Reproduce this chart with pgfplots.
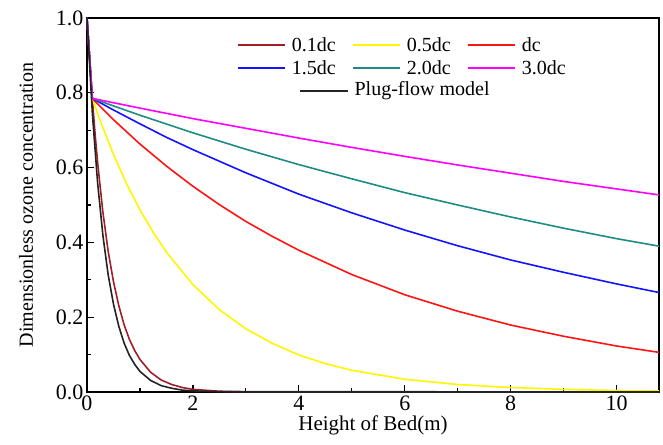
\documentclass[border=0pt]{standalone}
\usepackage{fontspec}
\setmainfont{Liberation Serif}
\usepackage{pgfplots}
\pgfplotsset{compat=1.18}
\definecolor{cdark}{RGB}{160,30,40}
\definecolor{cyel}{RGB}{255,245,0}
\definecolor{cred}{RGB}{255,20,20}
\definecolor{cblue}{RGB}{20,20,255}
\definecolor{cteal}{RGB}{30,140,130}
\definecolor{cmag}{RGB}{255,0,255}
\definecolor{cblk}{RGB}{35,35,35}
\tikzset{
  key/.style={line width=1.6pt},
  keytext/.style={right, inner xsep=6pt, text=black, font=\fontsize{20}{22}\selectfont},
}
\begin{document}
\begin{tikzpicture}
  \begin{axis}[
    scale only axis,
    width=572pt, height=374pt,
    xmin=0, xmax=10.8, ymin=0, ymax=1,
    xtick={0,2,...,10}, ytick={0,0.2,...,1.0},
    minor x tick num=1, minor y tick num=1,
    tick align=inside, tick pos=left,
    major tick length=7pt, minor tick length=4pt,
    every tick/.style={black, line width=1.2pt},
    axis line style={line width=1.5pt},
    /pgf/number format/assume math mode=true,
    yticklabel style={/pgf/number format/.cd, fixed, fixed zerofill, precision=1},
    tick label style={font=\fontsize{22}{24}\selectfont},
    xlabel={Height of Bed(m)},
    ylabel={Dimensionless ozone concentration},
    xlabel style={font=\fontsize{21}{23}\selectfont, yshift=2pt},
    ylabel style={font=\fontsize{20}{22}\selectfont, yshift=16pt},
    every axis plot/.append style={line width=1.6pt},
  ]
    \addplot[cdark] coordinates {
      (0,1) (0.1,0.785) (0.15,0.695) (0.2,0.614) (0.3,0.481) (0.4,0.376) (0.5,0.295)
      (0.6,0.231) (0.7,0.180) (0.8,0.141) (0.9,0.111) (1.0,0.087) (1.2,0.053)
      (1.4,0.032) (1.6,0.020) (1.8,0.012) (2.0,0.007) (2.5,0.002) (3.0,0.001) (10.8,0.0)
    };
    \addplot[cyel] coordinates {
      (0,1) (0.1,0.785) (0.25,0.725) (0.5,0.635) (0.75,0.556) (1,0.487) (1.25,0.427)
      (1.5,0.374) (2,0.287) (2.5,0.220) (3,0.169) (3.5,0.130) (4,0.099) (4.5,0.076)
      (5,0.058) (6,0.034) (7,0.020) (8,0.012) (9,0.007) (10,0.004) (10.8,0.003)
    };
    \addplot[cred] coordinates {
      (0,1) (0.1,0.785) (0.5,0.728) (1,0.663) (1.5,0.604) (2,0.550) (2.5,0.501)
      (3,0.456) (3.5,0.416) (4,0.379) (5,0.314) (6,0.260) (7,0.216) (8,0.179)
      (9,0.149) (10,0.123) (10.8,0.106)
    };
    \addplot[cblue] coordinates {
      (0,1) (0.1,0.785) (0.5,0.754) (1,0.717) (1.5,0.681) (2,0.648) (3,0.586)
      (4,0.529) (5,0.479) (6,0.433) (7,0.391) (8,0.353) (9,0.320) (10,0.289) (10.8,0.266)
    };
    \addplot[cteal] coordinates {
      (0,1) (0.1,0.785) (1,0.740) (2,0.693) (3,0.649) (4,0.608) (5,0.570) (6,0.533)
      (7,0.500) (8,0.468) (9,0.438) (10,0.410) (10.8,0.390)
    };
    \addplot[cmag] coordinates {
      (0,1) (0.1,0.785) (1,0.759) (2,0.731) (3,0.705) (4,0.679) (5,0.654) (6,0.630)
      (7,0.607) (8,0.585) (9,0.563) (10,0.543) (10.8,0.527)
    };
    \addplot[cblk] coordinates {
      (0,1) (0.1,0.748) (0.2,0.560) (0.3,0.419) (0.4,0.313) (0.5,0.235) (0.6,0.176)
      (0.7,0.131) (0.8,0.098) (0.9,0.074) (1.0,0.055) (1.2,0.031) (1.4,0.017)
      (1.6,0.010) (1.8,0.005) (2.0,0.003) (2.5,0.001) (3.0,0.0) (10.8,0.0)
    };
    % legend, drawn by hand (3 + 3 + 1 centred)
    \draw[key, cdark] (rel axis cs:0.264,0.928) -- ++(47pt,0pt) node[keytext] {0.1dc};
    \draw[key, cyel]  (rel axis cs:0.465,0.928) -- ++(47pt,0pt) node[keytext] {0.5dc};
    \draw[key, cred]  (rel axis cs:0.666,0.928) -- ++(47pt,0pt) node[keytext] {dc};
    \draw[key, cblue] (rel axis cs:0.264,0.866) -- ++(47pt,0pt) node[keytext] {1.5dc};
    \draw[key, cteal] (rel axis cs:0.465,0.866) -- ++(47pt,0pt) node[keytext] {2.0dc};
    \draw[key, cmag]  (rel axis cs:0.666,0.866) -- ++(47pt,0pt) node[keytext] {3.0dc};
    \draw[key, cblk]  (rel axis cs:0.372,0.805) -- ++(48pt,0pt) node[keytext] {Plug-flow model};
    \coordinate (sw) at (rel axis cs:0,0);
    \coordinate (ne) at (rel axis cs:1,1);
  \end{axis}
  \path ([shift={(-87pt,-52pt)}]sw) rectangle ([shift={(4pt,18pt)}]ne);
\end{tikzpicture}
\end{document}
